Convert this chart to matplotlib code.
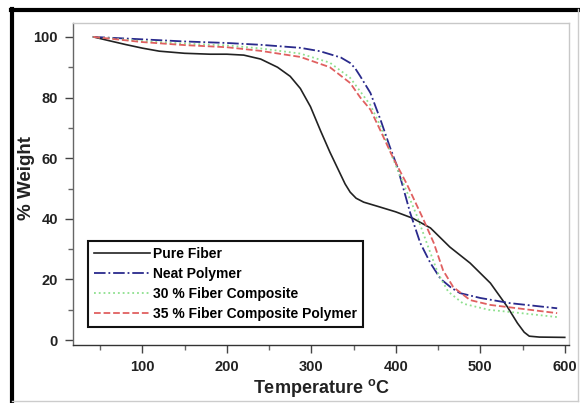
import numpy as np
import matplotlib
matplotlib.use("Agg")
import matplotlib.pyplot as plt
from matplotlib.lines import Line2D
from matplotlib.ticker import MultipleLocator

plt.rcParams['font.family'] = ['Liberation Sans', 'DejaVu Sans']
plt.rcParams['font.weight'] = 'bold'
plt.rcParams['mathtext.fontset'] = 'custom'
plt.rcParams['mathtext.rm'] = 'Liberation Sans:bold'
plt.rcParams['mathtext.bf'] = 'Liberation Sans:bold'

# data
t_pure = [42, 60, 80, 100, 120, 150, 180, 200, 220, 240, 260, 275, 287, 299, 311, 322,
          334, 340, 346, 353, 362, 380, 400, 420, 441, 464, 488, 512, 532, 544, 552, 558, 570, 600]
w_pure = [100, 98.8, 97.5, 96.3, 95.3, 94.6, 94.3, 94.3, 94.0, 92.7, 90, 87, 83, 77, 69, 62,
          55, 51.5, 48.8, 46.8, 45.5, 44, 42.3, 40.2, 37, 30.7, 25.4, 18.8, 11, 5.6, 2.6, 1.3, 1.0, 0.9]

t_neat = [42, 100, 150, 200, 240, 287, 310, 322, 335, 346, 352, 358, 370, 382, 393, 402, 417, 429,
          441, 453, 466, 476, 500, 535, 591]
w_neat = [100, 99.2, 98.5, 98, 97.4, 96.4, 95.3, 94.3, 93.2, 91.4, 89.6, 87, 81.5, 72.6, 63.7, 57, 42, 32,
          25.4, 20.2, 17.2, 15.5, 13.9, 12.2, 10.5]

t_30 = [42, 100, 150, 200, 240, 287, 322, 346, 358, 370, 382, 395, 410, 425, 438,
        450, 462, 480, 510, 545, 591]
w_30 = [100, 98.6, 97.8, 97.2, 96.2, 94.5, 91.5, 86.5, 82, 77.5, 70.5, 61, 51, 41, 31,
        22, 16, 12, 10, 9, 7.6]

t_35 = [42, 100, 150, 200, 240, 287, 322, 346, 358, 370, 382, 397, 413, 433, 445,
        456, 468, 488, 512, 544, 591]
w_35 = [100, 98.3, 97.3, 96.6, 95.4, 93.4, 90, 84.8, 80, 76, 69, 60, 51.5, 39.6, 32,
        23, 17.5, 13.2, 11.6, 10.5, 8.9]

labels = ['Pure Fiber', 'Neat Polymer', '30 % Fiber Composite', '35 % Fiber Composite Polymer']

fig = plt.figure(figsize=(5.8, 4.03), dpi=100)
ax = fig.add_axes([0.126, 0.144, 0.855, 0.799])

ax.plot(t_pure, w_pure, color='#222222', lw=1.2, ls='-', label=labels[0])
ax.plot(t_neat, w_neat, color='#2a2a8c', lw=1.3, ls='-.', label=labels[1])
ax.plot(t_30, w_30, color='#8ee08e', lw=1.3, ls=':', label=labels[2])
ax.plot(t_35, w_35, color='#e06060', lw=1.3, ls='--', label=labels[3])

ax.set_xlim(18, 605)
ax.set_ylim(-1.6, 104.6)
ax.xaxis.set_major_locator(MultipleLocator(100))
ax.xaxis.set_minor_locator(MultipleLocator(50))
ax.yaxis.set_major_locator(MultipleLocator(20))
ax.yaxis.set_minor_locator(MultipleLocator(10))
ax.set_xticks([100, 200, 300, 400, 500, 600])
ax.tick_params(which='major', length=6, width=1, color='#444444', labelsize=10.5, pad=5)
ax.tick_params(which='minor', length=3.5, width=1, color='#666666')
for lab in ax.get_xticklabels() + ax.get_yticklabels():
    lab.set_fontweight('bold')
    lab.set_color('#222222')

ax.spines['left'].set_color('#666666')
ax.spines['bottom'].set_color('#333333')
ax.spines['top'].set_color('#c8c8c8')
ax.spines['right'].set_color('#c8c8c8')
for s in ax.spines.values():
    s.set_linewidth(1)

ax.set_xlabel(r'Temperature $^{\mathrm{o}}$C', fontsize=13, fontweight='bold', labelpad=2, color='#222222')
ax.set_ylabel('% Weight', fontsize=13.5, fontweight='bold', color='#222222')
ax.yaxis.set_label_coords(-0.076, 0.52)

leg = ax.legend(loc='lower left', bbox_to_anchor=(0.030, 0.056), borderaxespad=0,
                fancybox=False, framealpha=1, edgecolor='#111111',
                handlelength=4, handletextpad=0.2, labelspacing=0.42, borderpad=0.45,
                prop={'weight': 'bold', 'size': 10})
leg.get_frame().set_linewidth(1.5)

# outer frame of the figure
fig.add_artist(Line2D([0.021, 0.021], [0.0, 0.978], transform=fig.transFigure, color='black', lw=3))
fig.add_artist(Line2D([0.019, 0.997], [0.976, 0.976], transform=fig.transFigure, color='black', lw=3))
fig.add_artist(Line2D([0.996, 0.996], [0.005, 0.978], transform=fig.transFigure, color='#cccccc', lw=1))
fig.add_artist(Line2D([0.021, 0.996], [0.006, 0.006], transform=fig.transFigure, color='#cccccc', lw=1))

fig.savefig('out.png', dpi=100)
